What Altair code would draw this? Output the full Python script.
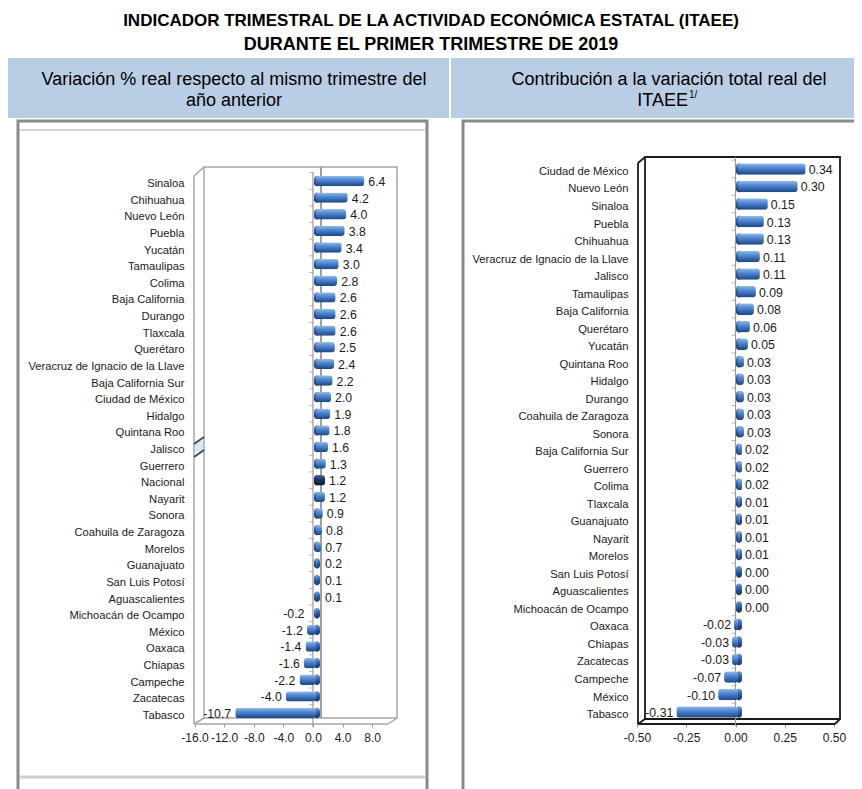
import altair as alt
import pandas as pd

FUENTE = "Liberation Sans"
ANCHO, ALTO = 846, 781

titulo_1 = "INDICADOR TRIMESTRAL DE LA ACTIVIDAD ECONÓMICA ESTATAL (ITAEE)"
titulo_2 = "DURANTE EL PRIMER TRIMESTRE DE 2019"
encabezado_izq = ["Variación % real respecto al mismo trimestre del", "año anterior"]
encabezado_der = ["Contribución a la variación total real del", "ITAEE"]
nota_der = "1/"

estados_var = ["Sinaloa", "Chihuahua", "Nuevo León", "Puebla", "Yucatán", "Tamaulipas",
               "Colima", "Baja California", "Durango", "Tlaxcala", "Querétaro",
               "Veracruz de Ignacio de la Llave", "Baja California Sur", "Ciudad de México",
               "Hidalgo", "Quintana Roo", "Jalisco", "Guerrero", "Nacional", "Nayarit",
               "Sonora", "Coahuila de Zaragoza", "Morelos", "Guanajuato", "San Luis Potosí",
               "Aguascalientes", "Michoacán de Ocampo", "México", "Oaxaca", "Chiapas",
               "Campeche", "Zacatecas", "Tabasco"]
valores_var = [6.4, 4.2, 4.0, 3.8, 3.4, 3.0, 2.8, 2.6, 2.6, 2.6, 2.5, 2.4, 2.2, 2.0, 1.9,
               1.8, 1.6, 1.3, 1.2, 1.2, 0.9, 0.8, 0.7, 0.2, 0.1, 0.1, -0.2, -1.2, -1.4,
               -1.6, -2.2, -4.0, -10.7]

estados_con = ["Ciudad de México", "Nuevo León", "Sinaloa", "Puebla", "Chihuahua",
               "Veracruz de Ignacio de la Llave", "Jalisco", "Tamaulipas", "Baja California",
               "Querétaro", "Yucatán", "Quintana Roo", "Hidalgo", "Durango",
               "Coahuila de Zaragoza", "Sonora", "Baja California Sur", "Guerrero", "Colima",
               "Tlaxcala", "Guanajuato", "Nayarit", "Morelos", "San Luis Potosí",
               "Aguascalientes", "Michoacán de Ocampo", "Oaxaca", "Chiapas", "Zacatecas",
               "Campeche", "México", "Tabasco"]
valores_con = [0.34, 0.30, 0.15, 0.13, 0.13, 0.11, 0.11, 0.09, 0.08, 0.06, 0.05, 0.03, 0.03,
               0.03, 0.03, 0.03, 0.02, 0.02, 0.02, 0.01, 0.01, 0.01, 0.01, 0.00, 0.00, 0.00,
               -0.02, -0.03, -0.03, -0.07, -0.10, -0.31]

ticks_var = [-16, -12, -8, -4, 0, 4, 8]
ticks_con = [-0.5, -0.25, 0, 0.25, 0.5]

df_var = pd.DataFrame({"estado": estados_var, "valor": valores_var,
                       "etiqueta": [f"{v:.1f}" for v in valores_var]})
df_con = pd.DataFrame({"estado": estados_con, "valor": valores_con,
                       "etiqueta": [f"{v:.2f}" for v in valores_con]})


def p(v):
    return v - 8


una = alt.Data(values=[{"k": 0}])


def degradado(colores):
    n = len(colores) - 1
    return alt.LinearGradient(
        gradient="linear", x1=0, x2=0, y1=0, y2=1,
        stops=[alt.GradientStop(offset=i / n, color=c) for i, c in enumerate(colores)])


DEG_EST = degradado(["#98bdec", "#5a8fd6", "#366ab2", "#1d4680"])
DEG_TAPA = degradado(["#6f9ad6", "#3f6fb3", "#224a86", "#163866"])
DEG_NAC = degradado(["#55719c", "#22406b", "#102b50", "#08182f"])
DEG_NAC_TAPA = degradado(["#3d5880", "#1a3459", "#0b2242", "#061226"])


def seg(x, y, x2, y2, color, ancho=1.0):
    return alt.Chart(una).mark_rule(color=color, strokeWidth=ancho).encode(
        x=alt.value(p(x)), y=alt.value(p(y)), x2=alt.value(p(x2)), y2=alt.value(p(y2)))


def caja(x, y, x2, y2, relleno=None, borde=None, ancho=1.0):
    kw = {}
    if relleno is not None:
        kw["fill"] = relleno
    else:
        kw["fillOpacity"] = 0
    if borde is not None:
        kw["stroke"] = borde
        kw["strokeWidth"] = ancho
    return alt.Chart(una).mark_rect(**kw).encode(
        x=alt.value(p(x)), y=alt.value(p(y)), x2=alt.value(p(x2)), y2=alt.value(p(y2)))


def texto(t, x, y, tam, negrita=False, align="center"):
    return alt.Chart(una).mark_text(
        text=t, font=FUENTE, fontSize=tam, fontWeight="bold" if negrita else "normal",
        align=align, baseline="middle", color="#000000").encode(
        x=alt.value(p(x)), y=alt.value(p(y)))


def eje_y(off):
    return alt.Axis(orient="left", offset=off, title=None, ticks=False, tickSize=0,
                    domain=False, grid=False, labelPadding=0, labelFont=FUENTE,
                    labelFontSize=11.2, labelColor="#1a1a1a", labelOffset=3,
                    labelLimit=300, labelOverlap=False)


def eje_x(valores, fmt):
    return alt.Axis(orient="bottom", offset=-66, values=valores, format=fmt,
                    labelExpr="replace(datum.label, '\u2212', '-')", title=None,
                    domain=False, grid=False, tickSize=4, tickColor="#9a9a9a",
                    labelFont=FUENTE, labelFontSize=12, labelColor="#1a1a1a",
                    labelPadding=5, labelOverlap=False, labelFlush=False)


def panel(df, xs_bar, xs_eje, ys, paso, tam_barra, eje_off, valores_eje, fmt,
          linea_y0, linea_y1, min_pos, max_neg, dx_pos, dx_neg):
    base = alt.Chart(df)
    yenc = alt.Y("estado:N", scale=ys, sort=None, axis=None)
    capas = []
    # front value axis line at zero, with the value axis
    capas.append(alt.Chart(una).mark_rule(color="#9a9a9a", strokeWidth=1.2).encode(
        x=alt.XDatum(0, type="quantitative", scale=xs_eje, axis=eje_x(valores_eje, fmt)),
        y=alt.value(p(linea_y0)), y2=alt.value(p(linea_y1))))
    # category ticks on zero axis
    capas.append(base.mark_tick(orient="horizontal", size=4, thickness=1, color="#9a9a9a",
                                xOffset=-2, yOffset=-paso / 2).encode(
        x=alt.XDatum(0, type="quantitative", scale=xs_eje, axis=None), y=yenc))
    # caps
    for filtro, grad in [("datum.estado != 'Nacional'", DEG_TAPA),
                         ("datum.estado == 'Nacional'", DEG_NAC_TAPA)]:
        capas.append(base.transform_filter(filtro).mark_tick(
            orient="vertical", color=grad, thickness=6, size=tam_barra, cornerRadius=3,
            xOffset=1, opacity=1).encode(
            x=alt.XDatum(0, type="quantitative", scale=xs_bar, axis=None), y=yenc))
    # bars
    capas.append(base.transform_filter("datum.estado != 'Nacional'").mark_bar(
        color=DEG_EST, cornerRadius=3, size=tam_barra).encode(
        x=alt.X("valor:Q", scale=xs_bar, axis=None),
        y=alt.Y("estado:N", scale=ys, sort=None, axis=eje_y(eje_off))))
    capas.append(base.transform_filter("datum.estado == 'Nacional'").mark_bar(
        color=DEG_NAC, cornerRadius=3, size=tam_barra).encode(
        x=alt.X("valor:Q", scale=xs_bar, axis=None), y=yenc))
    # value labels
    capas.append(base.transform_filter("datum.valor >= 0").transform_calculate(
        lx=f"max(datum.valor, {min_pos})").mark_text(
        align="left", baseline="middle", dx=dx_pos, dy=1, font=FUENTE, fontSize=12.3,
        color="#1a1a1a").encode(
        x=alt.X("lx:Q", scale=xs_bar, axis=None), y=yenc, text="etiqueta:N"))
    capas.append(base.transform_filter("datum.valor < 0").transform_calculate(
        lx=f"min(datum.valor, {max_neg})").mark_text(
        align="right", baseline="middle", dx=dx_neg, dy=1, font=FUENTE, fontSize=12.3,
        color="#1a1a1a").encode(
        x=alt.X("lx:Q", scale=xs_bar, axis=None), y=yenc, text="etiqueta:N"))
    return capas


capas = []

# header band
capas.append(caja(8, 58, 449, 118, relleno="#b9cde5"))
capas.append(caja(451, 58, 854, 118, relleno="#b9cde5"))

# titles
capas.append(texto(titulo_1, 431, 21, 17, negrita=True))
capas.append(texto(titulo_2, 431, 45, 18, negrita=True))
capas.append(texto(encabezado_izq[0], 234, 80, 18))
capas.append(texto(encabezado_izq[1], 234, 101, 18))
capas.append(texto(encabezado_der[0], 669, 80, 18))
capas.append(texto(encabezado_der[1], 688, 101, 18, align="right"))
capas.append(texto(nota_der, 689, 95, 10, align="left"))

# panel frames
capas.append(caja(18, 121, 427, 800, borde="#8a8a8a", ancho=3))
capas.append(seg(20, 130, 425, 130, "#d2d2d2", 2))
capas.append(seg(20, 777, 425, 777, "#cfcfcf", 3))
capas.append(caja(463, 121, 870, 800, borde="#8a8a8a", ancho=3))

# left 3D frame
GR = "#a6a6a6"
capas.append(caja(204, 167, 397, 718, borde=GR, ancho=1.5))
capas.append(seg(194, 176, 194, 724, GR, 1.5))
capas.append(seg(194, 176, 204, 167, GR, 1.5))
capas.append(seg(194, 724, 388, 724, GR, 1.5))
capas.append(seg(388, 724, 397, 718, GR, 1.5))
capas.append(seg(194, 724, 204, 718, GR, 1.5))
capas.append(caja(195, 441, 203, 452, relleno="#d8eaf6"))
capas.append(seg(194, 444, 204, 437, "#4a4a4a", 2))
capas.append(seg(194, 457, 204, 450, "#4a4a4a", 2))
capas.append(seg(321, 167, 321, 718, "#a0a0a0", 2))

# right 3D frame
NG = "#1a1a1a"
capas.append(caja(645, 157, 840, 719, borde=NG, ancho=1.8))
capas.append(seg(638, 163, 638, 724, NG, 1.8))
capas.append(seg(638, 163, 645, 157, NG, 1.8))
capas.append(seg(638, 724, 835, 724, NG, 1.8))
capas.append(seg(835, 724, 840, 719, NG, 1.8))
capas.append(seg(638, 724, 645, 719, NG, 1.8))

# left panel
x_var_barras = alt.Scale(domain=[-16, 10], range=[p(195.2), p(391.5)], nice=False, zero=False)
x_var_eje = alt.Scale(domain=[-16, 10], range=[p(194.5), p(387)], nice=False, zero=False)
y_var = alt.Scale(domain=estados_var, range=[p(172.7), p(721.3)], paddingInner=0.38,
                  paddingOuter=0.19)
capas += panel(df_var, x_var_barras, x_var_eje, y_var, 16.625, 10.3, -p(184), ticks_var,
               ".1f", 172, 727, 0.65, -1.0, 4, -4)

# right panel
x_con_barras = alt.Scale(domain=[-0.5, 0.5], range=[p(638.5), p(837.5)], nice=False, zero=False)
x_con_eje = alt.Scale(domain=[-0.5, 0.5], range=[p(637), p(834)], nice=False, zero=False)
y_con = alt.Scale(domain=estados_con, range=[p(160.2), p(720.8)], paddingInner=0.32,
                  paddingOuter=0.16)
capas += panel(df_con, x_con_barras, x_con_eje, y_con, 17.52, 11.6, -p(628), ticks_con,
               ".2f", 157, 726, 0.02, 0.0, 3, -3)

chart = alt.layer(*capas).resolve_scale(x="independent", y="independent").properties(
    width=ANCHO, height=ALTO, autosize=alt.AutoSizeParams(type="none"), padding=0,
    background="white").configure_view(stroke=None)

chart.save("out.html", embed_options={"renderer": "svg", "actions": False})
